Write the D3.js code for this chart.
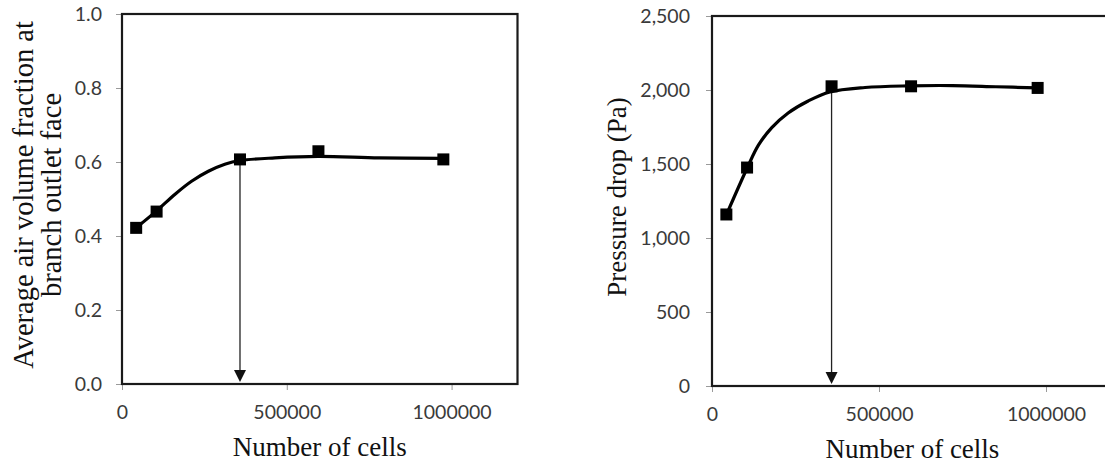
<!DOCTYPE html>
<html>
<head>
<meta charset="utf-8">
<script src="https://cdn.jsdelivr.net/npm/d3@7"></script>
<style>
  html, body { margin: 0; padding: 0; background: #fff; }
  svg { display: block; }
</style>
</head>
<body>
<svg id="chart" width="1105" height="463"></svg>
<script>
// ---------- data (markers) ----------
const cells = [43000, 105000, 358000, 596000, 975000];
const airFraction = [0.422, 0.466, 0.607, 0.629, 0.607];
const pressureDrop = [1159, 1476, 2025, 2025, 2014];
// ---------- smoothed trend curves ----------
const airCurveCells = [44000, 105000, 161000, 211000, 262000, 312000, 358000, 464000, 596000, 780000, 975000];
const airCurveValues = [0.423, 0.468, 0.513, 0.548, 0.575, 0.594, 0.604, 0.611, 0.615, 0.611, 0.610];
const pressureCurveCells = [44000, 106000, 139000, 179000, 228000, 288000, 353000, 458000, 588000, 720000, 850000, 975000];
const pressureCurveValues = [1161, 1476, 1627, 1746, 1845, 1926, 1987, 2017, 2028, 2030, 2022, 2014];
// ---------- ticks ----------
const xTicks = [0, 500000, 1000000];
const airTicks = [0, 0.2, 0.4, 0.6, 0.8, 1.0];
const pressureTicks = [0, 500, 1000, 1500, 2000, 2500];
const selectedIndex = 2;

const svg = d3.select("#chart");

function drawPanel(cfg) {
  const x = d3.scaleLinear().domain([0, 1200000]).range([cfg.left, cfg.right]);
  const y = d3.scaleLinear().domain(cfg.yDomain).range([cfg.bottom, cfg.top]);
  const g = svg.append("g");
  const tickFont = "Lato, 'Open Sans', sans-serif";

  // y axis ticks + labels
  const yAxis = d3.axisLeft(y).tickValues(cfg.yTicks).tickSize(6).tickPadding(cfg.yPad).tickFormat(cfg.yFormat);
  const ya = g.append("g").attr("transform", `translate(${cfg.left},0)`).call(yAxis);
  ya.select(".domain").remove();
  ya.selectAll(".tick line").attr("stroke", "#9a9a9a").attr("stroke-width", 1);
  ya.selectAll(".tick text").attr("fill", "#3a3a3a").style("font-family", tickFont).style("font-size", "19.5px");

  // x axis ticks + labels
  const xAxis = d3.axisBottom(x).tickValues(xTicks).tickSize(6).tickPadding(15).tickFormat(d3.format("d"));
  const xa = g.append("g").attr("transform", `translate(0,${cfg.bottom})`).call(xAxis);
  xa.select(".domain").remove();
  xa.selectAll(".tick line").attr("stroke", "#9a9a9a").attr("stroke-width", 1);
  xa.selectAll(".tick text").attr("fill", "#3a3a3a").style("font-family", tickFont).style("font-size", "19.5px");

  // plot frame
  g.append("rect")
    .attr("x", cfg.left).attr("y", cfg.top)
    .attr("width", cfg.right - cfg.left).attr("height", cfg.bottom - cfg.top)
    .attr("fill", "none").attr("stroke", "#1a1a1a").attr("stroke-width", 2.2);

  // arrow
  const ax = x(cells[selectedIndex]);
  const ay0 = y(cfg.values[selectedIndex]);
  const ay1 = y(0) - 2;
  g.append("line").attr("x1", ax).attr("x2", ax).attr("y1", ay0).attr("y2", ay1 - 8)
    .attr("stroke", "#222").attr("stroke-width", 1.3);
  g.append("path")
    .attr("d", `M${ax - 6},${ay1 - 12} L${ax + 6},${ay1 - 12} L${ax},${ay1} Z`)
    .attr("fill", "#111");

  // smooth curve
  const pts = cfg.curveX.map((c, i) => [x(c), y(cfg.curveY[i])]);
  g.append("path")
    .attr("d", d3.line().curve(d3.curveCatmullRom.alpha(0.5))(pts))
    .attr("fill", "none").attr("stroke", "#000").attr("stroke-width", 3.2)
    .attr("stroke-linejoin", "round").attr("stroke-linecap", "round");

  // markers
  const ms = 12;
  g.selectAll("rect.m").data(cells.map((c, i) => [c, cfg.values[i]])).enter()
    .append("rect").attr("class", "m")
    .attr("x", d => x(d[0]) - ms / 2).attr("y", d => y(d[1]) - ms / 2)
    .attr("width", ms).attr("height", ms).attr("fill", "#000");

  // x title
  g.append("text")
    .attr("x", (cfg.left + cfg.right) / 2).attr("y", cfg.xTitleY)
    .attr("text-anchor", "middle")
    .style("font-family", "'Liberation Serif', 'Times New Roman', serif")
    .style("font-size", "27px").attr("fill", "#111")
    .text("Number of cells");

  // y title
  const yt = g.append("text")
    .attr("transform", `translate(${cfg.yTitleX},${(cfg.top + cfg.bottom) / 2 - 4}) rotate(-90)`)
    .attr("text-anchor", "middle")
    .style("font-family", "'Liberation Serif', 'Times New Roman', serif")
    .style("font-size", cfg.yTitleSize + "px").attr("fill", "#111");
  const lines = cfg.yTitle;
  lines.forEach((t, i) => {
    yt.append("tspan").attr("x", 0)
      .attr("dy", i === 0 ? (-(lines.length - 1) * 14 + 8) : 28)
      .text(t);
  });
}

drawPanel({
  left: 122, right: 517.5, top: 14, bottom: 384,
  yDomain: [0, 1], yTicks: airTicks, yFormat: d3.format(".1f"), yPad: 14,
  values: airFraction, curveX: airCurveCells, curveY: airCurveValues,
  xTitleY: 456, yTitleX: 39, yTitleSize: 28.5,
  yTitle: ["Average air volume fraction at", "branch outlet face"]
});

drawPanel({
  left: 712, right: 1112.8, top: 16, bottom: 386,
  yDomain: [0, 2500], yTicks: pressureTicks, yFormat: d3.format(","), yPad: 16,
  values: pressureDrop, curveX: pressureCurveCells, curveY: pressureCurveValues,
  xTitleY: 458, yTitleX: 618, yTitleSize: 27,
  yTitle: ["Pressure drop (Pa)"]
});
</script>
</body>
</html>
